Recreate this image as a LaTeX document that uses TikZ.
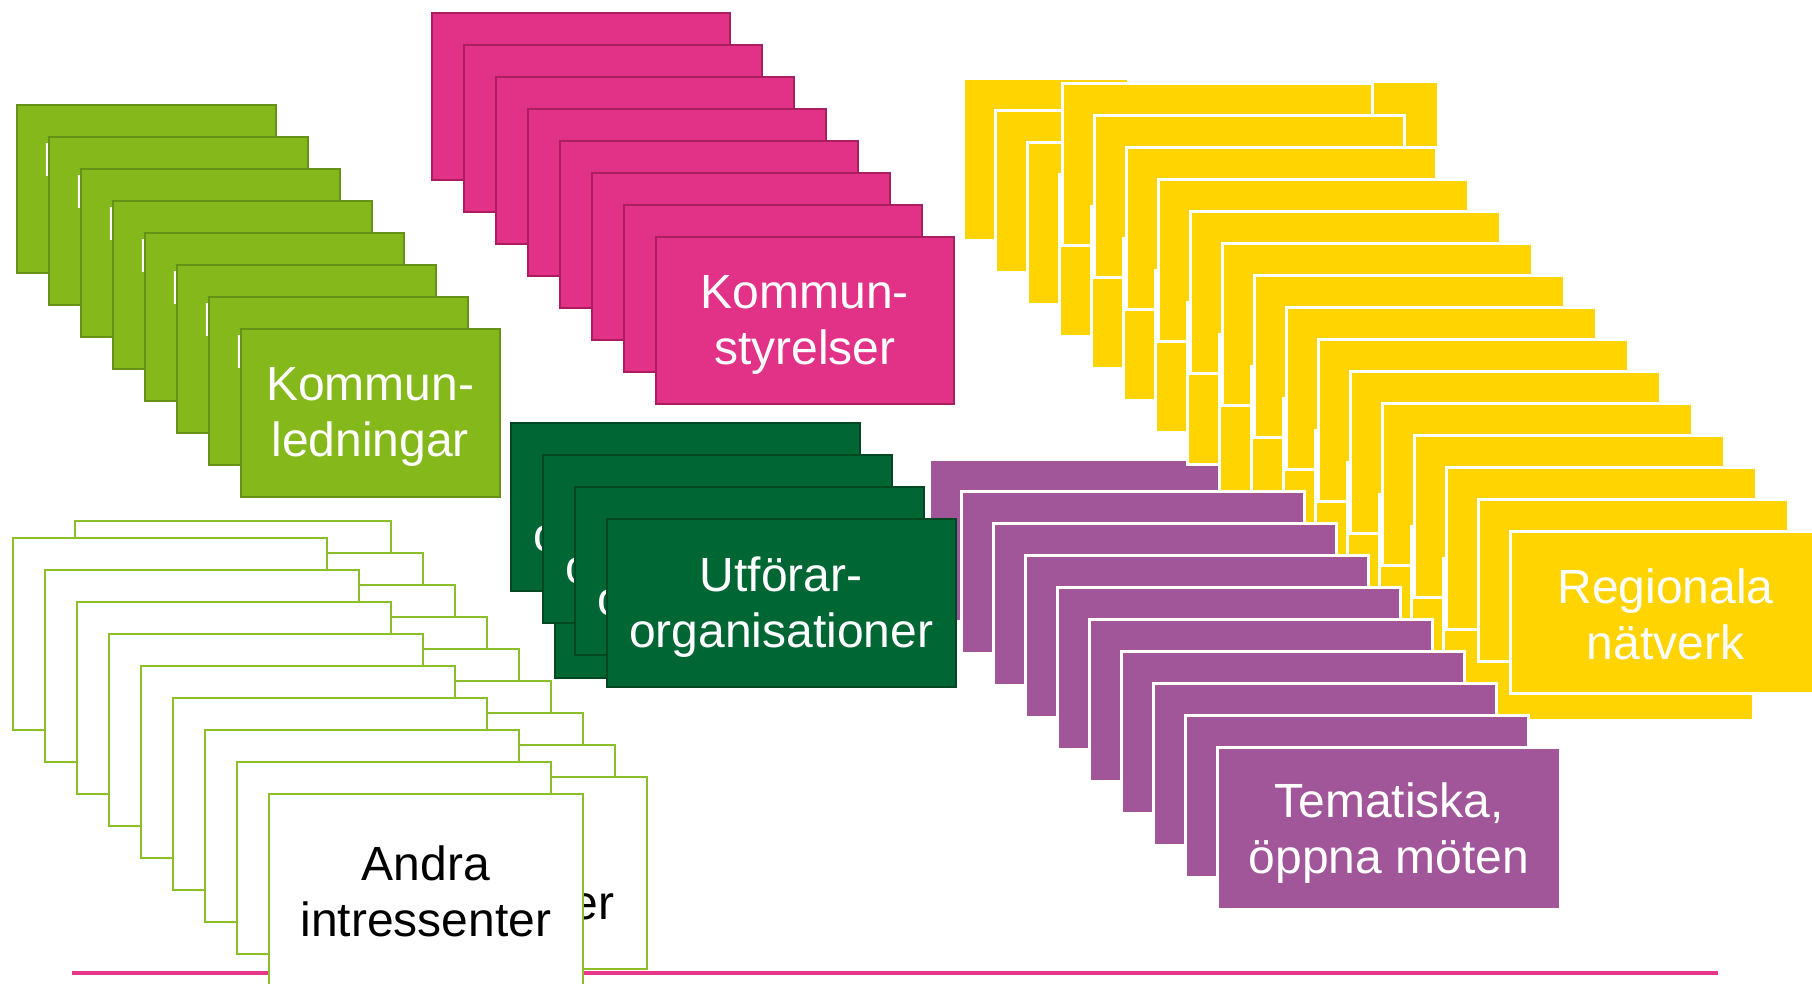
\documentclass[tikz,border=0pt]{standalone}
\usepackage{fontspec}
\setmainfont{Liberation Sans}

\definecolor{kl}{RGB}{133,184,27}
\definecolor{klline}{RGB}{100,145,22}
\definecolor{ks}{RGB}{226,50,135}
\definecolor{ksline}{RGB}{170,30,95}
\definecolor{uo}{RGB}{0,102,51}
\definecolor{uoline}{RGB}{0,72,33}
\definecolor{rn}{RGB}{255,212,0}
\definecolor{tm}{RGB}{160,86,152}
\definecolor{ai}{RGB}{140,190,40}
\definecolor{linepink}{RGB}{230,55,140}

\begin{document}
\begin{tikzpicture}[x=1pt, y=-1pt]
	\tikzstyle{every node}=[rectangle, inner sep=0pt]
	\tikzstyle{card}=[anchor=north west]
	\tikzstyle{cardtext}=[anchor=center, align=center, text=white, font=\fontsize{48}{56}\selectfont]
	\tikzstyle{klcard}=[card, draw=klline, fill=kl, line width=1.5pt, minimum width=259pt, minimum height=168pt]
	\tikzstyle{kscard}=[card, draw=ksline, fill=ks, line width=1.5pt, minimum width=298pt, minimum height=167pt]
	\tikzstyle{uocard}=[card, draw=uoline, fill=uo, line width=1.5pt, minimum width=349pt, minimum height=168pt]
	\tikzstyle{rncard}=[card, draw=white, fill=rn, line width=3pt, minimum width=310pt, minimum height=162pt]
	\tikzstyle{tmcard}=[card, draw=white, fill=tm, line width=3pt, minimum width=343pt, minimum height=162pt]
	\tikzstyle{aicard}=[card, draw=ai, fill=white, line width=2pt, minimum width=314pt, minimum height=192pt]

	\useasboundingbox (0, 0) rectangle (1812, 983);

	% bottom line
	\coordinate (Line_L) at (72, 973);
	\coordinate (Line_R) at (1718, 973);
	\draw[linepink, line width=4pt] (Line_L)--(Line_R);

	% kommunledningar
	\foreach \i in {0,...,7} {
		\node[klcard](Komm_Led\i) at (16+32*\i, 104+32*\i) {};
		\node[cardtext](Komm_Led_Text\i) at ([yshift=-4.5pt]Komm_Led\i.center) {Kommun-\\ledningar};
	}

	% kommunstyrelser
	\foreach \i in {0,...,7}
		\node[kscard](Komm_Sty\i) at (431+32*\i, 12+32*\i) {};
	\node[cardtext](Komm_Sty_Text) at ([yshift=-4.5pt]Komm_Sty7.center) {Kommun-\\styrelser};

	% tematiska moten, first card
	\node[tmcard](Tem0) at (928, 458) {};

	% regionala natverk
	\foreach \i in {0,...,3}
		\node[rncard](Reg_A\i) at (962+32*\i, 77+32*\i) {};
	\node[rncard](Reg_X) at (1127, 80) {};
	\foreach \i in {0,...,14} {
		\node[rncard](Reg_B\i) at (1061+32*\i, 82+32*\i) {};
		\pgfmathtruncatemacro{\k}{\i+4}
		\ifnum\k<16
			\node[rncard](Reg_A\k) at (962+32*\k, 77+32*\k) {};
		\fi
	}
	\node[cardtext](Reg_Text) at ([yshift=-1.5pt]Reg_B14.center) {Regionala\\nätverk};

	% tematiska moten
	\foreach \i in {1,...,9}
		\node[tmcard](Tem\i) at (928+32*\i, 458+32*\i) {};
	\node[cardtext](Tem_Text) at ([yshift=-4.5pt]Tem9.center) {Tematiska,\\öppna möten};

	% utforarorganisationer
	\node[uocard](Utf_Org0) at (510, 422) {};
	\node[cardtext](Utf_Org_Text0) at ([yshift=-4.5pt]Utf_Org0.center) {Utförar-\\organisationer};
	\node[uocard](Utf_Org_X) at (554, 509) {};
	\foreach \i in {1,2,3} {
		\node[uocard](Utf_Org\i) at (510+32*\i, 422+32*\i) {};
		\node[cardtext](Utf_Org_Text\i) at ([yshift=-4.5pt]Utf_Org\i.center) {Utförar-\\organisationer};
	}

	% andra intressenter
	\foreach \i in {0,...,8}
		\node[aicard, minimum width=316pt](Andra_B\i) at (74+32*\i, 520+32*\i) {};
	\node[cardtext, text=black](Andra_B_Text) at ([yshift=-1pt]Andra_B8.center) {Andra\\intressenter};
	\foreach \i in {0,...,8}
		\node[aicard](Andra_A\i) at (12+32*\i, 537+32*\i) {};
	\node[cardtext, text=black](Andra_A_Text) at ([yshift=-1pt]Andra_A8.center) {Andra\\intressenter};

\end{tikzpicture}
\end{document}
